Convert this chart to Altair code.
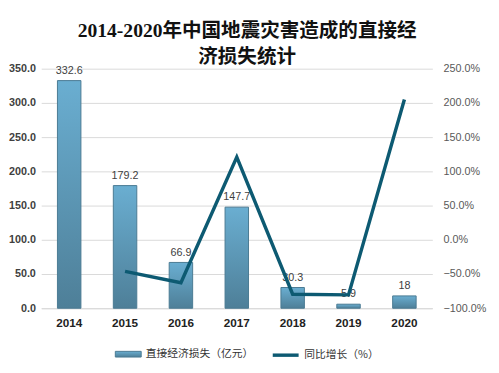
import altair as alt
import pandas as pd

years = ["2014", "2015", "2016", "2017", "2018", "2019", "2020"]
loss = [332.6, 179.2, 66.9, 147.7, 30.3, 5.9, 18]
growth = [None, -46.1, -62.7, 120.8, -79.5, -80.5, 205.1]
bar_name = "直接经济损失（亿元）"
line_name = "同比增长（%）"

df = pd.DataFrame({"year": years, "loss": loss, "growth": growth,
                   "s1": bar_name, "s2": line_name})
df["label"] = [("%g" % v) for v in loss]

font = "Liberation Sans, Noto Sans CJK SC"
x = alt.X("year:N", title=None,
          scale=alt.Scale(paddingInner=0.58, paddingOuter=0.29),
          axis=alt.Axis(labelAngle=0, labelFontWeight="bold", labelFontSize=12,
                        labelColor="#222222", ticks=False, domain=True,
                        domainColor="#d9d9d9", labelPadding=10, labelFont=font))

grad = alt.Gradient(gradient="linear", x1=0, x2=0, y1=0, y2=1,
                    stops=[alt.GradientStop(color="#6aaed1", offset=0),
                           alt.GradientStop(color="#4e7f98", offset=1)])

yleft = alt.Y("loss:Q", title=None,
              scale=alt.Scale(domain=[0, 350]),
              axis=alt.Axis(values=[0, 50, 100, 150, 200, 250, 300, 350], format=".1f",
                            labelFontWeight="bold", labelFontSize=11, labelColor="#404040",
                            ticks=False, domain=False, grid=True, gridColor="#d9d9d9",
                            labelPadding=6, labelFont=font))

base = alt.Chart(df)

bars = base.mark_bar(fill=grad, strokeWidth=1).encode(
    x=x,
    y=yleft,
    stroke=alt.Stroke("s1:N", title=None,
                      scale=alt.Scale(domain=[bar_name], range=["#4a7a92"]),
                      legend=alt.Legend(orient="none", legendX=75, legendY=278,
                                        symbolType="M-1,-0.22L1,-0.22L1,0.22L-1,0.22Z",
                                        symbolSize=700, symbolFillColor="#5f9dbf",
                                        labelFontSize=11, labelColor="#333333",
                                        labelFont="Noto Sans CJK SC", symbolStrokeWidth=1)),
)

texts = base.mark_text(baseline="bottom", dy=-5, fontSize=11, color="#404040", font=font).encode(
    x=x,
    y=yleft,
    text="label:N",
)

left = alt.layer(bars, texts)

line = base.transform_filter("datum.growth != null").mark_line(strokeWidth=3.5).encode(
    x=x,
    y=alt.Y("growth:Q", title=None,
            scale=alt.Scale(domain=[-100, 250]),
            axis=alt.Axis(orient="right", values=[-100, -50, 0, 50, 100, 150, 200, 250],
                          labelExpr="format(datum.value, '.1f') + '%'",
                          labelFontSize=11, labelColor="#595959", ticks=False, domain=False,
                          grid=False, labelPadding=11, labelFont=font)),
    stroke=alt.Stroke("s2:N", title=None,
                      scale=alt.Scale(domain=[line_name], range=["#0d5a72"]),
                      legend=alt.Legend(orient="none", legendX=235, legendY=278,
                                        symbolType="stroke", symbolSize=700,
                                        symbolStrokeWidth=3.5, labelFontSize=11,
                                        labelColor="#333333", labelFont="Noto Sans CJK SC")),
)

chart = alt.layer(left, line).resolve_scale(
    y="independent", stroke="independent"
).resolve_legend(stroke="independent").properties(
    width=400, height=245,
    padding={"top": 10, "left": 0, "right": 5, "bottom": 0},
    title=alt.TitleParams(
        text=["2014-2020年中国地震灾害造成的直接经", "济损失统计"],
        font="Liberation Serif, Noto Sans CJK SC", fontSize=20, fontWeight="bold",
        color="#111111", lineHeight=26, anchor="middle", frame="bounds", offset=-4),
).configure_view(stroke=None).configure_legend(padding=0)

chart.save("out.html", embed_options={"renderer": "svg", "actions": False})
